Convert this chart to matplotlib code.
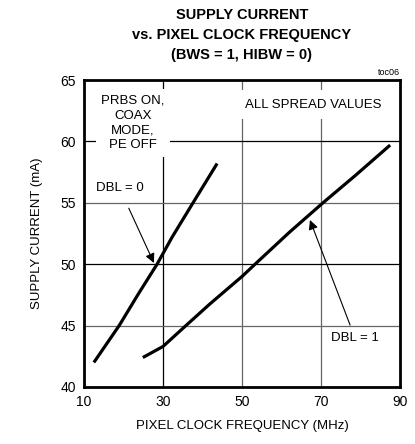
import matplotlib
matplotlib.use("Agg")
import matplotlib.pyplot as plt

plt.rcParams['font.family'] = ['Liberation Sans Narrow', 'Liberation Sans', 'DejaVu Sans']

# DBL = 0 curve
dbl0_freq = [12.5, 18.9, 23.9, 28.5, 32.3, 37.6, 43.7]
dbl0_current = [42.0, 45.0, 47.65, 50.0, 52.2, 55.0, 58.2]

# DBL = 1 curve
dbl1_freq = [24.9, 30.0, 35.8, 42.0, 50.0, 53.3, 62.0, 70.5, 78.6, 87.5]
dbl1_current = [42.4, 43.3, 45.0, 46.8, 49.0, 50.0, 52.6, 55.0, 57.2, 59.7]

x_ticks = [10, 30, 50, 70, 90]
y_ticks = [40, 45, 50, 55, 60, 65]

fig = plt.figure(figsize=(4.15, 4.44), dpi=100)
ax = fig.add_axes([0.2024, 0.1284, 0.7615, 0.6914])

ax.set_xlim(10, 90)
ax.set_ylim(40, 65)
ax.set_xticks(x_ticks)
ax.set_yticks(y_ticks)
ax.tick_params(length=0, labelsize=10, pad=6)

# grid: some lines darker than others
for x, c in [(30, 'black'), (50, '#666666'), (70, '#666666')]:
    ax.axvline(x, color=c, lw=0.9, zorder=1)
for y, c in [(45, '#666666'), (50, 'black'), (55, '#666666'), (60, 'black')]:
    ax.axhline(y, color=c, lw=0.9, zorder=1)

for s in ax.spines.values():
    s.set_linewidth(2)
    s.set_zorder(5)

ax.plot(dbl0_freq, dbl0_current, color='black', lw=2.3, zorder=3, solid_capstyle='butt')
ax.plot(dbl1_freq, dbl1_current, color='black', lw=2.3, zorder=3, solid_capstyle='butt')

box = dict(facecolor='white', edgecolor='none', pad=3)
ax.text(22.4, 61.5, "PRBS ON,\nCOAX\nMODE,\nPE OFF", ha='center', va='center',
        fontsize=9.5, linespacing=1.3, bbox=dict(facecolor='white', edgecolor='none', pad=4), zorder=2)
ax.text(68, 63.0, "ALL SPREAD VALUES", ha='center', va='center', fontsize=9.5,
        bbox=dict(facecolor='white', edgecolor='none', pad=6), zorder=2)

ax.annotate("DBL = 0", xy=(27.7, 50.1), xytext=(19.0, 56.2), ha='center', va='center',
            fontsize=9.5, zorder=4,
            arrowprops=dict(arrowstyle='-|>', color='black', lw=0.8, mutation_scale=14,
                            shrinkA=9, shrinkB=0))
ax.annotate("DBL = 1", xy=(67.2, 53.6), xytext=(78.6, 44.0), ha='center', va='center',
            fontsize=9.5, bbox=box, zorder=4,
            arrowprops=dict(arrowstyle='-|>', color='black', lw=0.8, mutation_scale=14,
                            shrinkA=2, shrinkB=0))

ax.set_xlabel("PIXEL CLOCK FREQUENCY (MHz)", fontsize=9.5, labelpad=8)
ax.set_ylabel("SUPPLY CURRENT (mA)", fontsize=9.5, labelpad=12)

fig.text(0.583, 0.966, "SUPPLY CURRENT", ha='center', va='center', fontsize=10.5, fontweight='bold')
fig.text(0.583, 0.921, "vs. PIXEL CLOCK FREQUENCY", ha='center', va='center', fontsize=10.5, fontweight='bold')
fig.text(0.583, 0.876, "(BWS = 1, HIBW = 0)", ha='center', va='center', fontsize=10.5, fontweight='bold')
fig.text(0.965, 0.836, "toc06", ha='right', va='center', fontsize=6.5)

fig.savefig("out.png", dpi=100)
